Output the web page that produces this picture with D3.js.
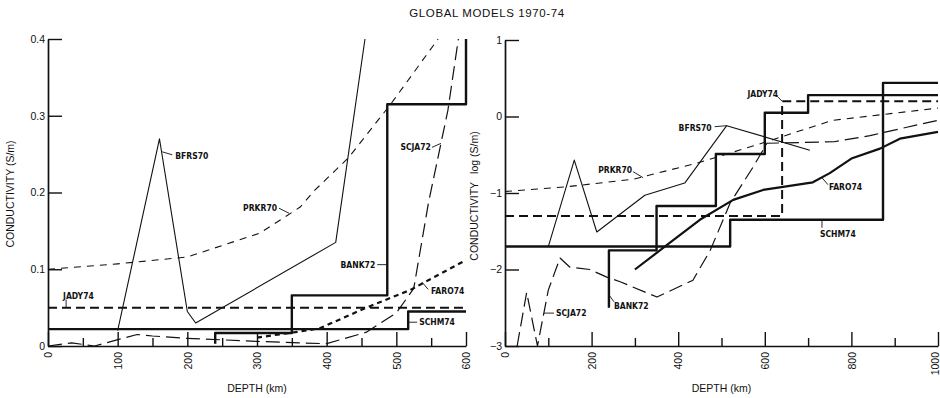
<!DOCTYPE html>
<html>
<head>
<meta charset="utf-8">
<script src="https://cdn.jsdelivr.net/npm/d3@7"></script>
<style>
  body { margin: 0; background: #fff; }
  svg { font-family: "Liberation Sans", Arial, sans-serif; }
  .tick text { font-size: 10.5px; fill: #111; }
  .lbl { font-family: "DejaVu Sans Condensed", "DejaVu Sans", sans-serif; font-weight: bold; font-size: 8.5px; fill: #111; }
</style>
</head>
<body>
<div id="chart"></div>
<script>
// ---- data: [depth km, value] ----
// left panel: conductivity in S/m
var linBFRS70 = [[100, 0.02], [160, 0.27], [200, 0.045], [212, 0.03], [413, 0.135], [455, 0.4]];
var linPRKR70 = [[0, 0.1], [100, 0.107], [200, 0.116], [304, 0.147], [362, 0.181], [383, 0.203], [431, 0.245], [491, 0.314], [560, 0.4]];
var linJADY74 = [[0, 0.05], [600, 0.05]];
var linBANK72 = [[240, 0.003], [240, 0.017], [350, 0.017], [350, 0.066], [487, 0.066], [487, 0.315], [600, 0.315], [600, 0.4]];
var linSCHM74 = [[0, 0.022], [517, 0.022], [517, 0.045], [600, 0.045]];
var linSCJA72 = [[0, 0.0], [34, 0.004], [67, 0.0], [99, 0.008], [128, 0.015], [150, 0.013], [200, 0.01], [300, 0.006], [362, 0.004], [400, 0.003], [457, 0.018], [500, 0.043], [525, 0.075], [546, 0.186], [574, 0.307], [589, 0.4]];
var linFARO74 = [[300, 0.011], [362, 0.019], [390, 0.023], [457, 0.05], [520, 0.073], [600, 0.112]];
// right panel: log10 conductivity
var logBFRS70 = [[100, -1.7], [160, -0.57], [212, -1.51], [323, -1.03], [415, -0.87], [450, -0.6], [512, -0.12], [704, -0.44]];
var logPRKR70 = [[0, -0.98], [140, -0.92], [296, -0.82], [443, -0.61], [582, -0.37], [674, -0.2], [757, -0.05], [1000, 0.11]];
var logJADY74 = [[0, -1.3], [640, -1.3], [640, 0.2], [1000, 0.2]];
var logBANK72 = [[240, -2.5], [240, -1.75], [350, -1.75], [350, -1.17], [487, -1.17], [487, -0.49], [600, -0.49], [600, 0.05], [700, 0.05], [700, 0.28], [1000, 0.28]];
var logSCHM74 = [[0, -1.7], [520, -1.7], [520, -1.35], [873, -1.35], [873, 0.44], [1000, 0.44]];
var logSCJA72 = [[28, -3], [50, -2.3], [75, -3], [100, -2.27], [127, -1.85], [150, -1.97], [196, -2.0], [235, -2.1], [266, -2.16], [351, -2.36], [434, -2.14], [474, -1.75], [520, -1.13], [573, -0.66], [605, -0.35], [760, -0.33], [843, -0.25], [928, -0.14], [1000, -0.05]];
var logFARO74 = [[300, -2.0], [381, -1.65], [450, -1.35], [527, -1.09], [596, -0.96], [711, -0.86], [750, -0.74], [800, -0.55], [866, -0.42], [912, -0.29], [1000, -0.2]];

var leftYTicks = [0, 0.1, 0.2, 0.3, 0.4];
var leftXTicks = [0, 100, 200, 300, 400, 500, 600];
var leftXMinor = [50, 150, 250, 350, 450, 550];
var rightYTicks = [-3, -2, -1, 0, 1];
var rightXTicks = [0, 200, 400, 600, 800, 1000];
var rightXMinor = [100, 300, 500, 700, 900];

// line styles
var styles = {
    BFRS70: { w: 1.1, dash: null },
    PRKR70: { w: 1.1, dash: "7,6" },
    JADY74: { w: 2, dash: "9,5" },
    BANK72: { w: 2.4, dash: null },
    SCHM74: { w: 2.4, dash: null },
    SCJA72: { w: 1.2, dash: "14,6" },
    FARO74dash: { w: 2.2, dash: "5,4" },
    FARO74: { w: 2.2, dash: null }
};

var svg = d3.select("#chart").append("svg")
    .attr("width", 940)
    .attr("height", 398);

svg.append("text")
    .attr("x", 487).attr("y", 17)
    .attr("text-anchor", "middle")
    .style("font-size", "11.5px")
    .style("letter-spacing", "0.6px")
    .style("fill", "#111")
    .text("GLOBAL MODELS 1970-74");

function buildPanel(opt) {
    var x = d3.scaleLinear().domain(opt.xDomain).range([opt.left, opt.right]);
    var y = d3.scaleLinear().domain(opt.yDomain).range([opt.bottom, opt.top]);
    var g = svg.append("g");

    g.append("defs").append("clipPath")
        .attr("id", opt.id + "clip")
        .append("rect")
        .attr("x", opt.left).attr("y", opt.top - 1)
        .attr("width", opt.right - opt.left + 2)
        .attr("height", opt.bottom - opt.top + 2);

    var line = d3.line()
        .x(function (d) { return x(d[0]); })
        .y(function (d) { return y(d[1]); });

    var lines = g.append("g").attr("clip-path", "url(#" + opt.id + "clip)");
    opt.series.forEach(function (s) {
        var st = styles[s.style];
        lines.append("path")
            .datum(s.data)
            .attr("d", line)
            .attr("fill", "none")
            .attr("stroke", "#111")
            .attr("stroke-width", st.w)
            .attr("stroke-linejoin", "round")
            .attr("stroke-dasharray", st.dash);
    });

    // minor ticks on depth axis
    g.append("g")
        .attr("transform", "translate(0," + opt.bottom + ")")
        .call(d3.axisBottom(x).tickValues(opt.xMinor).tickSize(-8).tickSizeOuter(0).tickFormat(""))
        .call(function (a) { a.select(".domain").remove(); });

    var xAxis = g.append("g")
        .attr("transform", "translate(0," + opt.bottom + ")")
        .call(d3.axisBottom(x).tickValues(opt.xTicks).tickSize(-14).tickSizeOuter(0).tickFormat(d3.format("d")));
    xAxis.selectAll(".tick text")
        .attr("transform", "rotate(-90)")
        .attr("x", -6)
        .attr("y", function (d) { return x(d) > 934 ? -3 : 0; }) // keep last label inside the page
        .attr("dy", "0.35em")
        .attr("text-anchor", "end");

    g.append("g")
        .attr("transform", "translate(" + opt.left + ",0)")
        .call(d3.axisLeft(y).tickValues(opt.yTicks).tickSize(-14).tickSizeOuter(0).tickPadding(3).tickFormat(opt.yFormat));

    g.selectAll(".domain").attr("stroke", "#111").attr("stroke-width", 1.7);
    g.selectAll(".tick line").attr("stroke", "#111").attr("stroke-width", 1.4);

    g.append("text")
        .attr("x", (opt.left + opt.right) / 2).attr("y", 392)
        .attr("text-anchor", "middle")
        .style("font-size", "10.5px").style("fill", "#111")
        .text("DEPTH (km)");

    var yt = g.append("text")
        .attr("transform", "translate(" + opt.yTitleX + "," + opt.yTitleY + ") rotate(-90)")
        .attr("text-anchor", "middle")
        .attr("dy", "0.35em")
        .style("font-size", "10.5px").style("fill", "#111");
    yt.append("tspan").text(opt.yTitle[0]);
    if (opt.yTitle[1]) yt.append("tspan").attr("dx", 8).text(opt.yTitle[1]);

    // curve labels with short leaders
    opt.labels.forEach(function (l) {
        var px = x(l.at[0]), py = y(l.at[1]);
        g.append("line")
            .attr("x1", px).attr("y1", py)
            .attr("x2", px + l.lx).attr("y2", py + l.ly)
            .attr("stroke", "#111").attr("stroke-width", 0.9);
        g.append("text")
            .attr("class", "lbl")
            .attr("x", px + l.tx).attr("y", py + l.ty)
            .attr("dy", "0.35em")
            .attr("text-anchor", l.anchor)
            .text(l.name);
    });
}

buildPanel({
    id: "lin",
    left: 48, right: 466, top: 39, bottom: 346,
    xDomain: [0, 600], yDomain: [0, 0.4],
    xTicks: leftXTicks, xMinor: leftXMinor, yTicks: leftYTicks,
    yFormat: function (d) { return d === 0 ? "0" : d3.format(".1f")(d); },
    yTitle: ["CONDUCTIVITY (S/m)"], yTitleX: 10, yTitleY: 194,
    series: [
        { data: linJADY74, style: "JADY74" },
        { data: linPRKR70, style: "PRKR70" },
        { data: linSCJA72, style: "SCJA72" },
        { data: linFARO74, style: "FARO74dash" },
        { data: linBFRS70, style: "BFRS70" },
        { data: linSCHM74, style: "SCHM74" },
        { data: linBANK72, style: "BANK72" }
    ],
    labels: [
        { name: "BFRS70", at: [164, 0.253], lx: 10, ly: 3, tx: 13, ty: 4, anchor: "start" },
        { name: "PRKR70", at: [346, 0.173], lx: -10, ly: -5, tx: -12, ty: -5, anchor: "end" },
        { name: "JADY74", at: [26, 0.05], lx: 0, ly: -8, tx: -3, ty: -12, anchor: "start" },
        { name: "SCJA72", at: [564, 0.264], lx: -9, ly: 4, tx: -10, ty: 4, anchor: "end" },
        { name: "BANK72", at: [487, 0.106], lx: -10, ly: 0, tx: -12, ty: 0, anchor: "end" },
        { name: "FARO74", at: [537, 0.083], lx: 6, ly: 7, tx: 9, ty: 9, anchor: "start" },
        { name: "SCHM74", at: [517, 0.031], lx: 9, ly: 0, tx: 11, ty: 0, anchor: "start" }
    ]
});

buildPanel({
    id: "log",
    left: 505, right: 938, top: 40, bottom: 346,
    xDomain: [0, 1000], yDomain: [-3, 1],
    xTicks: rightXTicks, xMinor: rightXMinor, yTicks: rightYTicks,
    yFormat: d3.format("d"),
    yTitle: ["CONDUCTIVITY", "log (S/m)"], yTitleX: 474, yTitleY: 196,
    series: [
        { data: logJADY74, style: "JADY74" },
        { data: logPRKR70, style: "PRKR70" },
        { data: logSCJA72, style: "SCJA72" },
        { data: logFARO74, style: "FARO74" },
        { data: logBFRS70, style: "BFRS70" },
        { data: logSCHM74, style: "SCHM74" },
        { data: logBANK72, style: "BANK72" }
    ],
    labels: [
        { name: "BFRS70", at: [512, -0.12], lx: -12, ly: 1, tx: -15, ty: 2, anchor: "end" },
        { name: "PRKR70", at: [319, -0.8], lx: -10, ly: -6, tx: -11, ty: -8, anchor: "end" },
        { name: "JADY74", at: [640, 0.2], lx: -5, ly: -5, tx: -4, ty: -7, anchor: "end" },
        { name: "FARO74", at: [732, -0.8], lx: 6, ly: 7, tx: 7, ty: 9, anchor: "start" },
        { name: "SCHM74", at: [732, -1.35], lx: 0, ly: 8, tx: -2, ty: 14, anchor: "start" },
        { name: "BANK72", at: [240, -2.33], lx: 5, ly: 7, tx: 5, ty: 11, anchor: "start" },
        { name: "SCJA72", at: [90, -2.57], lx: 10, ly: 0, tx: 12, ty: 0, anchor: "start" }
    ]
});
</script>
</body>
</html>
